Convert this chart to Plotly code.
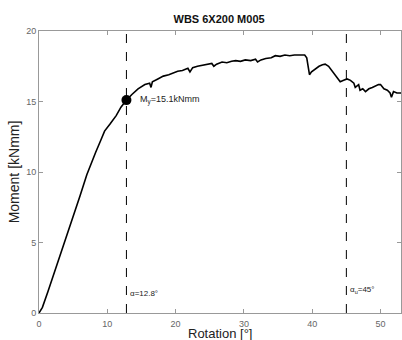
import plotly.graph_objects as go

rotation = [0, 0.5, 1.3, 2.0, 3.0, 4.0, 5.0, 6.0, 7.0, 7.6, 8.3, 9.0, 9.6, 10.4, 11.3, 12.0, 12.8,
            13.6, 14.5, 15.5, 16.2, 16.4, 16.6, 17.4, 18.2, 19.0, 19.5, 20.3, 21.0, 21.8, 22.1, 22.5,
            23.2, 23.9, 24.6, 25.3, 25.6, 26.0, 26.8, 27.5, 28.2, 28.8, 29.5, 30.2, 31.0, 31.7, 32.0,
            32.5, 33.2, 34.0, 34.6, 35.3, 36.0, 36.7, 37.4, 38.0, 38.5, 38.9, 39.2, 39.4, 39.6, 39.9,
            40.5, 41.0, 41.5, 41.9, 42.4, 42.9, 43.4, 43.8, 44.1, 44.6, 45.1, 45.6, 46.1, 46.3, 46.5,
            46.8, 47.0, 47.4, 47.8, 48.3, 48.8, 49.3, 49.7, 50.0, 50.5, 51.0, 51.4, 51.6, 51.9, 52.4, 52.9, 53.0]
moment = [0, 0.4, 1.5, 2.5, 3.9, 5.4, 6.8, 8.3, 9.8, 10.6, 11.4, 12.2, 12.9, 13.4, 14.0, 14.6, 15.1,
          15.5, 15.9, 16.2, 16.3, 16.0, 16.4, 16.6, 16.8, 16.9, 17.0, 17.15, 17.2, 17.35, 17.1, 17.4,
          17.5, 17.55, 17.6, 17.7, 17.5, 17.65, 17.8, 17.75, 17.85, 17.9, 17.85, 17.95, 17.9, 18.0, 17.8,
          17.95, 18.05, 18.1, 18.25, 18.2, 18.3, 18.25, 18.3, 18.3, 18.25, 18.3, 18.1, 17.5, 16.9, 17.1,
          17.35, 17.5, 17.6, 17.65, 17.5, 17.2, 16.9, 16.6, 16.4, 16.5, 16.6, 16.5, 16.3, 16.0, 16.1,
          16.2, 15.8, 15.9, 15.7, 15.9, 16.0, 16.1, 16.2, 16.2, 15.9, 15.8, 15.6, 15.3, 15.7, 15.6, 15.6, 15.6]

yield_rot = [12.8]
yield_moment = [15.1]
alpha_lines = [12.8, 45]
alpha_labels = ["α=12.8°", "α<sub>u</sub>=45°"]
x_ticks = [0, 10, 20, 30, 40, 50]
y_ticks = [0, 5, 10, 15, 20]

fig = go.Figure()
for a in alpha_lines:
    fig.add_trace(go.Scatter(x=[a, a], y=[0, 20], mode="lines",
                             line=dict(color="black", width=1, dash="dash"),
                             showlegend=False, hoverinfo="skip"))
fig.add_trace(go.Scatter(x=rotation, y=moment, mode="lines",
                         line=dict(color="black", width=1.6), showlegend=False))
fig.add_trace(go.Scatter(x=yield_rot, y=yield_moment, mode="markers",
                         marker=dict(color="black", size=10), showlegend=False))

fig.add_annotation(x=yield_rot[0] + 1.7, y=yield_moment[0], text="M<sub>y</sub>=15.1kNmm",
                   showarrow=False, xanchor="left", yanchor="middle",
                   font=dict(size=9, color="#222"))
fig.add_annotation(x=alpha_lines[0] + 0.3, y=1.4, text=alpha_labels[0], showarrow=False,
                   xanchor="left", yanchor="middle", font=dict(size=8, color="#222"))
fig.add_annotation(x=alpha_lines[1] + 0.3, y=1.6, text=alpha_labels[1], showarrow=False,
                   xanchor="left", yanchor="middle", font=dict(size=8, color="#222"))
# x-axis title
fig.add_annotation(x=0.5, xref="paper", y=0, yref="paper", yanchor="top", yshift=-11,
                   text="Rotation [°]", showarrow=False, font=dict(size=13, color="#222"))

fig.update_layout(
    width=402, height=340,
    margin=dict(l=39, r=1, t=31, b=27),
    paper_bgcolor="white", plot_bgcolor="white",
    font=dict(family="Liberation Sans, Arial, sans-serif"),
    title=dict(text="<b>WBS 6X200 M005</b>", x=0.545, xanchor="center", y=0.945, yanchor="middle",
               font=dict(size=11, color="#111")),
)
fig.update_xaxes(range=[0, 53], tickvals=x_ticks, showgrid=False, zeroline=False, automargin=False,
                 showline=True, linecolor="#999", linewidth=1, mirror="ticks",
                 ticks="inside", ticklen=4, tickcolor="#999", ticklabelstandoff=2,
                 tickfont=dict(size=9, color="#666"))
fig.update_yaxes(range=[0, 20], tickvals=y_ticks, showgrid=False, zeroline=False, automargin=False,
                 showline=True, linecolor="#999", linewidth=1, mirror="ticks",
                 ticks="inside", ticklen=4, tickcolor="#999",
                 tickfont=dict(size=9, color="#666"),
                 title=dict(text="Moment [kNmm]", font=dict(size=14, color="#222"), standoff=3))

fig.write_html("out.html", config={"displayModeBar": False},
               post_script="document.body.style.margin='0';document.body.style.overflow='hidden';")
